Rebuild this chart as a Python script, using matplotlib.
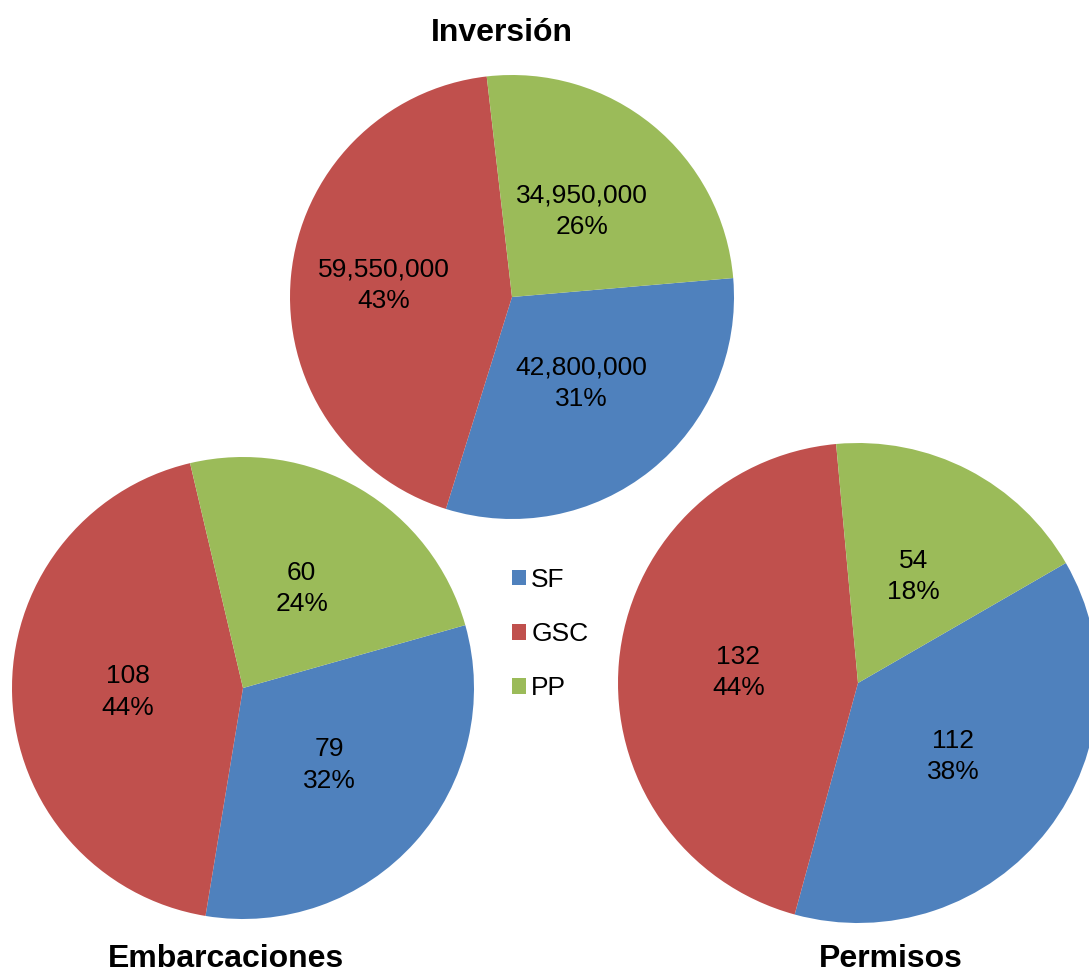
import math
import matplotlib
matplotlib.use("Agg")
import matplotlib.pyplot as plt
from matplotlib.patches import Patch

plt.rcParams['font.family'] = ['Liberation Sans', 'DejaVu Sans']

categories = ["SF", "GSC", "PP"]
colors = ["#4F81BD", "#C0504D", "#9BBB59"]

inversion_values = [42800000, 59550000, 34950000]
inversion_pct = ["31%", "43%", "26%"]

embarcaciones_values = [79, 108, 60]
embarcaciones_pct = ["32%", "44%", "24%"]

permisos_values = [112, 132, 54]
permisos_pct = ["38%", "44%", "18%"]

W, H = 1089, 973
fig = plt.figure(figsize=(W / 100, H / 100), dpi=100)


def pie_axes(cx, cy, r):
    """Square axes centred on (cx, cy) in pixels from the top-left corner."""
    return fig.add_axes([(cx - r) / W, (H - cy - r) / H, 2 * r / W, 2 * r / H])


def draw_pie(ax, values, pct, start, label_r):
    wedges, _ = ax.pie(values, colors=colors, startangle=start,
                       counterclock=False, radius=1.0,
                       wedgeprops=dict(linewidth=0))
    total = sum(values)
    ang = start
    for v, p, lr in zip(values, pct, label_r):
        sweep = 360.0 * v / total
        mid = math.radians(ang - sweep / 2)
        ang -= sweep
        ax.text(lr * math.cos(mid), lr * math.sin(mid), f"{v:,}\n{p}",
                ha="center", va="center", fontsize=19, color="black",
                linespacing=1.38)
    ax.set_xlim(-1, 1)
    ax.set_ylim(-1, 1)
    ax.set_aspect("equal")
    ax.axis("off")
    for w in wedges:
        w.set_clip_on(False)


ax1 = pie_axes(512, 297, 222)
draw_pie(ax1, inversion_values, inversion_pct, 4.9, [0.5, 0.58, 0.5])

ax2 = pie_axes(243, 688, 231)
draw_pie(ax2, embarcaciones_values, embarcaciones_pct, 15.8, [0.5, 0.5, 0.5])

ax3 = pie_axes(858, 683, 240)
draw_pie(ax3, permisos_values, permisos_pct, 30.0, [0.5, 0.5, 0.5])

title_kw = dict(ha="center", va="baseline", fontsize=23, fontweight="bold")
fig.text(502 / W, 1 - 41 / H, "Inversión", **title_kw)
fig.text(226 / W, 1 - 967 / H, "Embarcaciones", **title_kw)
fig.text(891 / W, 1 - 967 / H, "Permisos", **title_kw)

handles = [Patch(facecolor=c, edgecolor="none") for c in colors]
fig.legend(handles, categories, loc="upper left",
           bbox_to_anchor=(512 / W, 1 - 568 / H), frameon=False,
           fontsize=19, handlelength=0.53, handleheight=0.53,
           handletextpad=0.2, labelspacing=1.14, borderpad=0, borderaxespad=0)

fig.savefig("out.png", dpi=100)
